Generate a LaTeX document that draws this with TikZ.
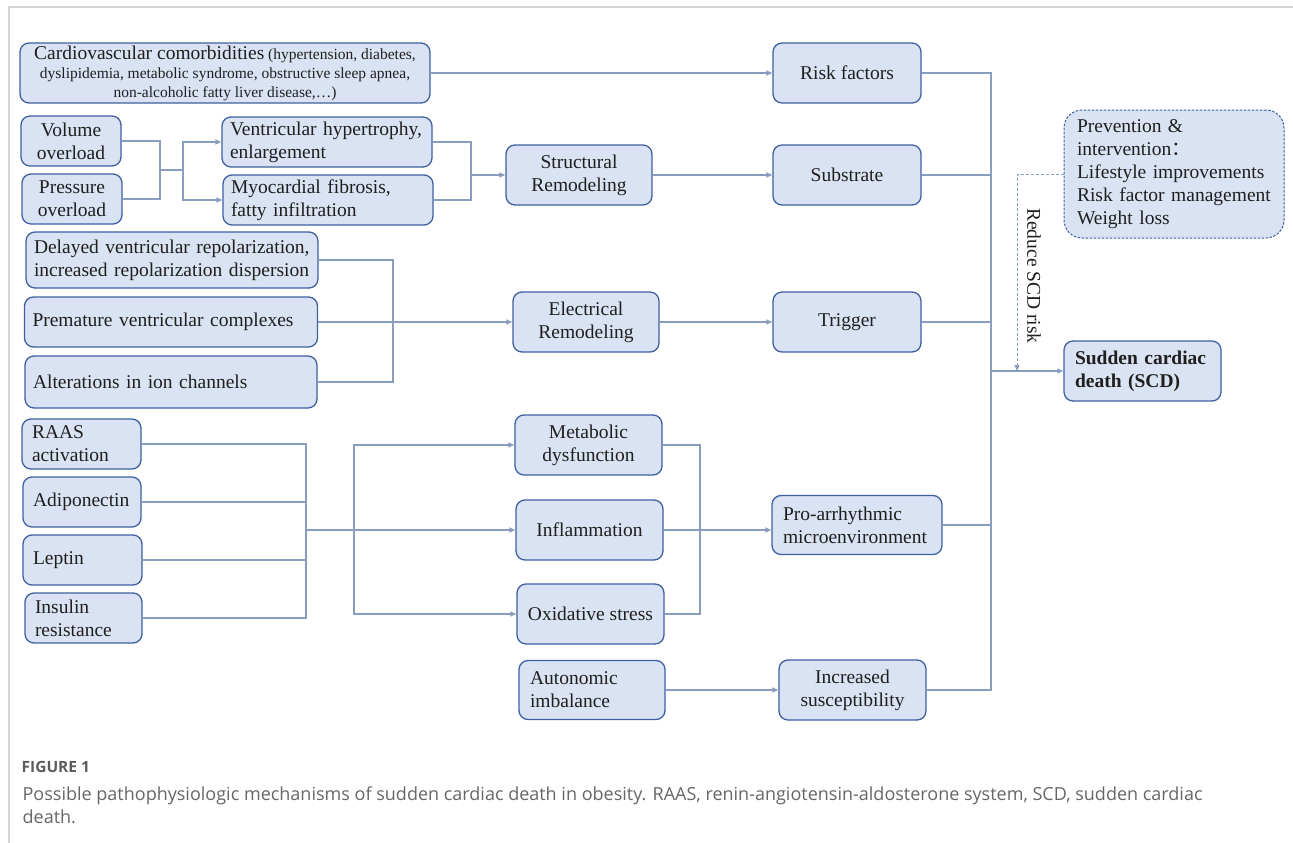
\documentclass[tikz,border=0pt]{standalone}
\usepackage{fontspec}
\setmainfont{Liberation Serif}
\newfontfamily\capfont{Open Sans}
\newfontfamily\cjk{Noto Sans CJK SC}
\usetikzlibrary{arrows.meta}

\definecolor{boxfill}{RGB}{218,227,243}
\definecolor{boxline}{RGB}{62,96,160}
\definecolor{linkcol}{RGB}{137,157,190}
\definecolor{framegray}{RGB}{212,212,212}
\definecolor{capgray}{RGB}{92,92,92}

\begin{document}
\begin{tikzpicture}[x=1pt,y=-1pt,>={Triangle[length=6pt,width=5pt]},line width=1.3pt]
	\tikzstyle{box}=[draw=boxline,fill=boxfill,rounded corners=9pt,inner sep=0pt,align=center,text=black!88,font=\fontsize{19.5}{23}\selectfont]
	\tikzstyle{lbox}=[box,align=left,inner xsep=8pt]
	\tikzstyle{link}=[draw=linkcol]
	\useasboundingbox (0,0) rectangle (1293,843);
	\draw[framegray,line width=1.5pt] (9,843) -- (9,7) -- (1293,7);
	
	% top rows
	\node[box,minimum width=410pt,minimum height=60pt,font=\fontsize{15.5}{19}\selectfont] (cvd) at (225,73)
	     {{\fontsize{19.5}{21}\selectfont Cardiovascular comorbidities} (hypertension, diabetes,\\dyslipidemia, metabolic syndrome, obstructive sleep apnea,\\non-alcoholic fatty liver disease,…)};
	\node[box,minimum width=100pt,minimum height=50pt] (vol)  at (71,141)  {Volume\\overload};
	\node[box,minimum width=100pt,minimum height=50pt] (pres) at (72,199)  {Pressure\\overload};
	\node[lbox,text width=194pt,minimum height=50pt] (hyper) at (327,142) {Ventricular hypertrophy,\\enlargement};
	\node[lbox,text width=194pt,minimum height=50pt] (fibro) at (328,200) {Myocardial fibrosis,\\fatty infiltration};
	\node[box,minimum width=146pt,minimum height=60pt] (struct) at (579,175) {Structural\\Remodeling};
	\node[box,minimum width=148pt,minimum height=60pt] (risk)  at (847,73)  {Risk factors};
	\node[box,minimum width=148pt,minimum height=60pt] (subst) at (847,175) {Substrate};
	
	% electrical
	\node[lbox,text width=276pt,minimum height=56pt] (delay) at (172,260) {Delayed ventricular repolarization,\\increased repolarization dispersion};
	\node[lbox,text width=277pt,minimum height=50pt] (prem)  at (171,322) {Premature ventricular complexes};
	\node[lbox,text width=276pt,minimum height=52pt] (alter) at (171,382) {Alterations in ion channels};
	\node[box,minimum width=146pt,minimum height=60pt] (elec) at (586,322) {Electrical\\Remodeling};
	\node[box,minimum width=148pt,minimum height=60pt] (trig) at (847,322) {Trigger};
	
	% outcome
	\node[lbox,inner xsep=13pt,text width=194pt,minimum height=128pt,rounded corners=18pt,dashed,dash pattern=on 2.5pt off 1.5pt,line width=1pt] (prev) at (1174,174)
	     {Prevention \&\\intervention{\cjk ：}\\Lifestyle improvements\\Risk factor management\\Weight loss};
	\node[lbox,inner xsep=11pt,text width=135pt,minimum height=60pt,font=\fontsize{19.5}{23}\selectfont\bfseries] (scd) at (1142.5,371) {Sudden cardiac\\death (SCD)};
	\node[rotate=-90,font=\fontsize{19.5}{23}\selectfont,text=black!88] (reduce) at (1034,276) {Reduce SCD risk};
	
	% bottom rows
	\node[lbox,inner xsep=10pt,text width=99pt,minimum height=50pt] (raas)    at (81.5,444) {RAAS\\activation};
	\node[lbox,inner xsep=10pt,text width=98pt,minimum height=50pt] (adipo)   at (82,502)   {Adiponectin};
	\node[lbox,inner xsep=10pt,text width=99pt,minimum height=50pt] (leptin)  at (82.5,560) {Leptin};
	\node[lbox,inner xsep=10pt,text width=97pt,minimum height=50pt] (insulin) at (83.5,618) {Insulin\\resistance};
	\node[box,minimum width=147pt,minimum height=60pt] (metab)  at (588.5,445) {Metabolic\\dysfunction};
	\node[box,minimum width=147pt,minimum height=60pt] (inflam) at (589.5,530) {Inflammation};
	\node[box,minimum width=147pt,minimum height=60pt] (oxid)   at (590.5,614) {Oxidative stress};
	\node[lbox,inner xsep=11pt,text width=148pt,minimum height=59pt] (pro) at (857,525) {Pro-arrhythmic\\microenvironment};
	\node[lbox,inner xsep=11pt,text width=124pt,minimum height=59pt] (auto) at (592,690) {Autonomic\\imbalance};
	\node[box,minimum width=147pt,minimum height=60pt] (incr) at (852.5,690) {Increased\\susceptibility};
	
	% connectors
	\draw[link,->] (cvd) -- (risk);
	\coordinate (volj) at (160,170);
	\draw[link] (vol) -| (volj);
	\draw[link] (pres) -| (volj);
	\coordinate (hypj) at (183,170);
	\draw[link] (volj) -- (hypj);
	\draw[link,->] (hypj) |- (hyper);
	\draw[link,->] (hypj) |- (fibro);
	\coordinate (remj) at (471,175);
	\draw[link] (hyper) -| (remj);
	\draw[link] (fibro) -| (remj);
	\draw[link,->] (remj) -- (struct);
	\draw[link,->] (struct) -- (subst);
	
	\coordinate (elej) at (393,322);
	\draw[link] (delay) -| (elej);
	\draw[link] (alter) -| (elej);
	\draw[link,->] (prem) -- (elec);
	\draw[link,->] (elec) -- (trig);
	
	\coordinate (adij) at (306,530);
	\foreach \src in {raas,adipo,leptin,insulin}
		\draw[link] (\src) -| (adij);
	\draw[link,->] (adij) -- (inflam);
	\coordinate (metj) at (354,530);
	\draw[link,->] (metj) |- (metab);
	\draw[link,->] (metj) |- (oxid);
	\coordinate (proj) at (700,530);
	\draw[link] (metab) -| (proj);
	\draw[link] (oxid) -| (proj);
	\draw[link,->] (inflam) -- (inflam -| pro.west);
	\draw[link,->] (auto) -- (incr);
	
	\coordinate (scdj) at (991,371);
	\foreach \src in {risk,subst,trig,pro,incr}
		\draw[link] (\src) -| (scdj);
	\draw[link,->] (scdj) -- (scd);
	\coordinate (redj) at (1017,371);
	\draw[link,line width=1pt,dash pattern=on 3pt off 2pt,->] (prev) -| (redj);
	
	% caption
	\node[anchor=west,inner sep=0pt,text=capgray,font=\capfont\fontsize{15.5}{19}\selectfont\bfseries] (fig) at (21,767) {FIGURE 1};
	\node[anchor=north west,inner sep=0pt,align=left,text=black!60,font=\capfont\fontsize{18}{23}\selectfont] (cap) at (22,786)
	     {Possible pathophysiologic mechanisms of sudden cardiac death in obesity. RAAS, renin-angiotensin-aldosterone system, SCD, sudden cardiac\\death.};
\end{tikzpicture}
\end{document}
